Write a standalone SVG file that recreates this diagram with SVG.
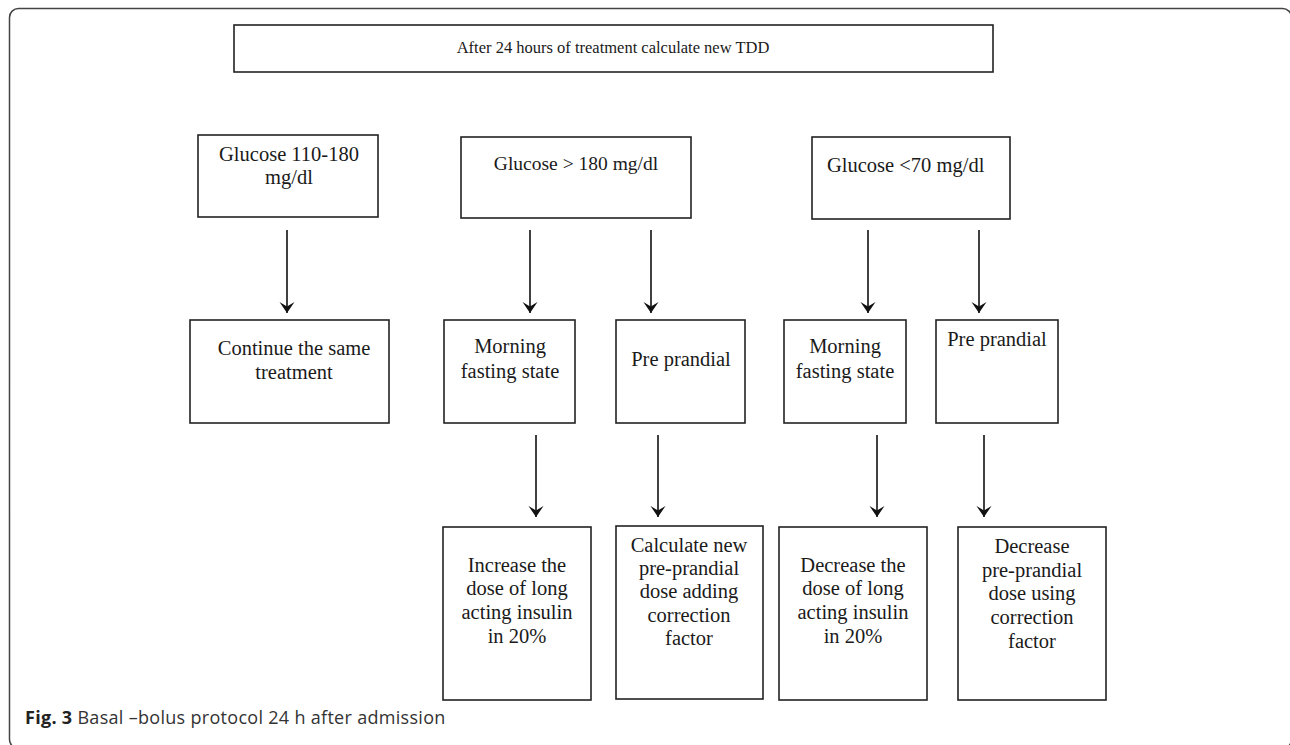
<svg xmlns="http://www.w3.org/2000/svg" width="1290" height="745" viewBox="0 0 1290 745">
<defs>
<style>
.box{fill:#fff;stroke:#222;stroke-width:1.6}
.t{font-family:"Liberation Serif","Times New Roman",serif;font-size:20.5px;fill:#1a1a1a;text-anchor:middle}
.tl{text-anchor:start}
.top{font-size:16.5px}
.g180{font-size:19.5px}
.conn line{stroke:#111;stroke-width:1.6}
.cap{font-family:"Open Sans","Noto Sans","Liberation Sans",sans-serif;font-size:18px;letter-spacing:0.3px;fill:#333}
</style>
<marker id="ah" viewBox="-12 -8 13 16" refX="0" refY="0" markerWidth="13" markerHeight="16" markerUnits="userSpaceOnUse" orient="auto">
<path d="M-11,-7.5 L0,0 L-11,7.5 L-6.5,0 Z" fill="#111"/>
</marker>
</defs>
<rect x="9.5" y="8.5" width="1282" height="740" rx="9" fill="#fff" stroke="#444" stroke-width="1.5"/>

<g id="n_top">
<rect class="box" x="234" y="25" width="759" height="47"/>
<text class="t top" x="613" y="53">After 24 hours of treatment calculate new TDD</text>
</g>

<g id="n_g110">
<rect class="box" x="198" y="135" width="180" height="82"/>
<text class="t" x="289" y="161">Glucose 110-180</text>
<text class="t" x="289" y="184">mg/dl</text>
</g>
<g id="n_g180">
<rect class="box" x="461" y="137" width="230" height="81"/>
<text class="t g180" x="576" y="170">Glucose &gt; 180 mg/dl</text>
</g>
<g id="n_g70">
<rect class="box" x="812" y="137" width="198" height="82"/>
<text class="t tl" x="827" y="172">Glucose &lt;70 mg/dl</text>
</g>

<g id="n_continue">
<rect class="box" x="190" y="320" width="199" height="103"/>
<text class="t" x="294" y="355">Continue the same</text>
<text class="t" x="294" y="379">treatment</text>
</g>
<g id="n_morning1">
<rect class="box" x="444" y="320" width="131" height="103"/>
<text class="t" x="510" y="353">Morning</text>
<text class="t" x="510" y="378">fasting state</text>
</g>
<g id="n_pre1">
<rect class="box" x="616" y="320" width="129" height="103"/>
<text class="t" x="681" y="366">Pre prandial</text>
</g>
<g id="n_morning2">
<rect class="box" x="784" y="320" width="122" height="103"/>
<text class="t" x="845" y="353">Morning</text>
<text class="t" x="845" y="378">fasting state</text>
</g>
<g id="n_pre2">
<rect class="box" x="936" y="320" width="122" height="103"/>
<text class="t" x="997" y="346">Pre prandial</text>
</g>

<g id="n_increase">
<rect class="box" x="443" y="527" width="148" height="173"/>
<text class="t" x="517" y="572">Increase the</text>
<text class="t" x="517" y="595">dose of long</text>
<text class="t" x="517" y="619">acting insulin</text>
<text class="t" x="517" y="643">in 20%</text>
</g>
<g id="n_calc">
<rect class="box" x="616" y="526" width="147" height="173"/>
<text class="t" x="689" y="552">Calculate new</text>
<text class="t" x="689" y="575">pre-prandial</text>
<text class="t" x="689" y="598">dose adding</text>
<text class="t" x="689" y="622">correction</text>
<text class="t" x="689" y="645">factor</text>
</g>
<g id="n_decrease1">
<rect class="box" x="779" y="527" width="148" height="173"/>
<text class="t" x="853" y="572">Decrease the</text>
<text class="t" x="853" y="595">dose of long</text>
<text class="t" x="853" y="619">acting insulin</text>
<text class="t" x="853" y="643">in 20%</text>
</g>
<g id="n_decrease2">
<rect class="box" x="958" y="527" width="148" height="173"/>
<text class="t" x="1032" y="553">Decrease</text>
<text class="t" x="1032" y="577">pre-prandial</text>
<text class="t" x="1032" y="600">dose using</text>
<text class="t" x="1032" y="624">correction</text>
<text class="t" x="1032" y="648">factor</text>
</g>

<g id="connectors" class="conn">
<line x1="287" y1="230" x2="287" y2="313" marker-end="url(#ah)"/>
<line x1="530" y1="230" x2="530" y2="313" marker-end="url(#ah)"/>
<line x1="651" y1="230" x2="651" y2="313" marker-end="url(#ah)"/>
<line x1="868" y1="230" x2="868" y2="313" marker-end="url(#ah)"/>
<line x1="979" y1="230" x2="979" y2="313" marker-end="url(#ah)"/>
<line x1="536" y1="435" x2="536" y2="517" marker-end="url(#ah)"/>
<line x1="658" y1="435" x2="658" y2="517" marker-end="url(#ah)"/>
<line x1="877" y1="435" x2="877" y2="517" marker-end="url(#ah)"/>
<line x1="984" y1="435" x2="984" y2="517" marker-end="url(#ah)"/>
</g>

<text class="cap" x="25" y="724"><tspan font-weight="bold" fill="#222">Fig. 3</tspan> Basal –bolus protocol 24 h after admission</text>
</svg>
